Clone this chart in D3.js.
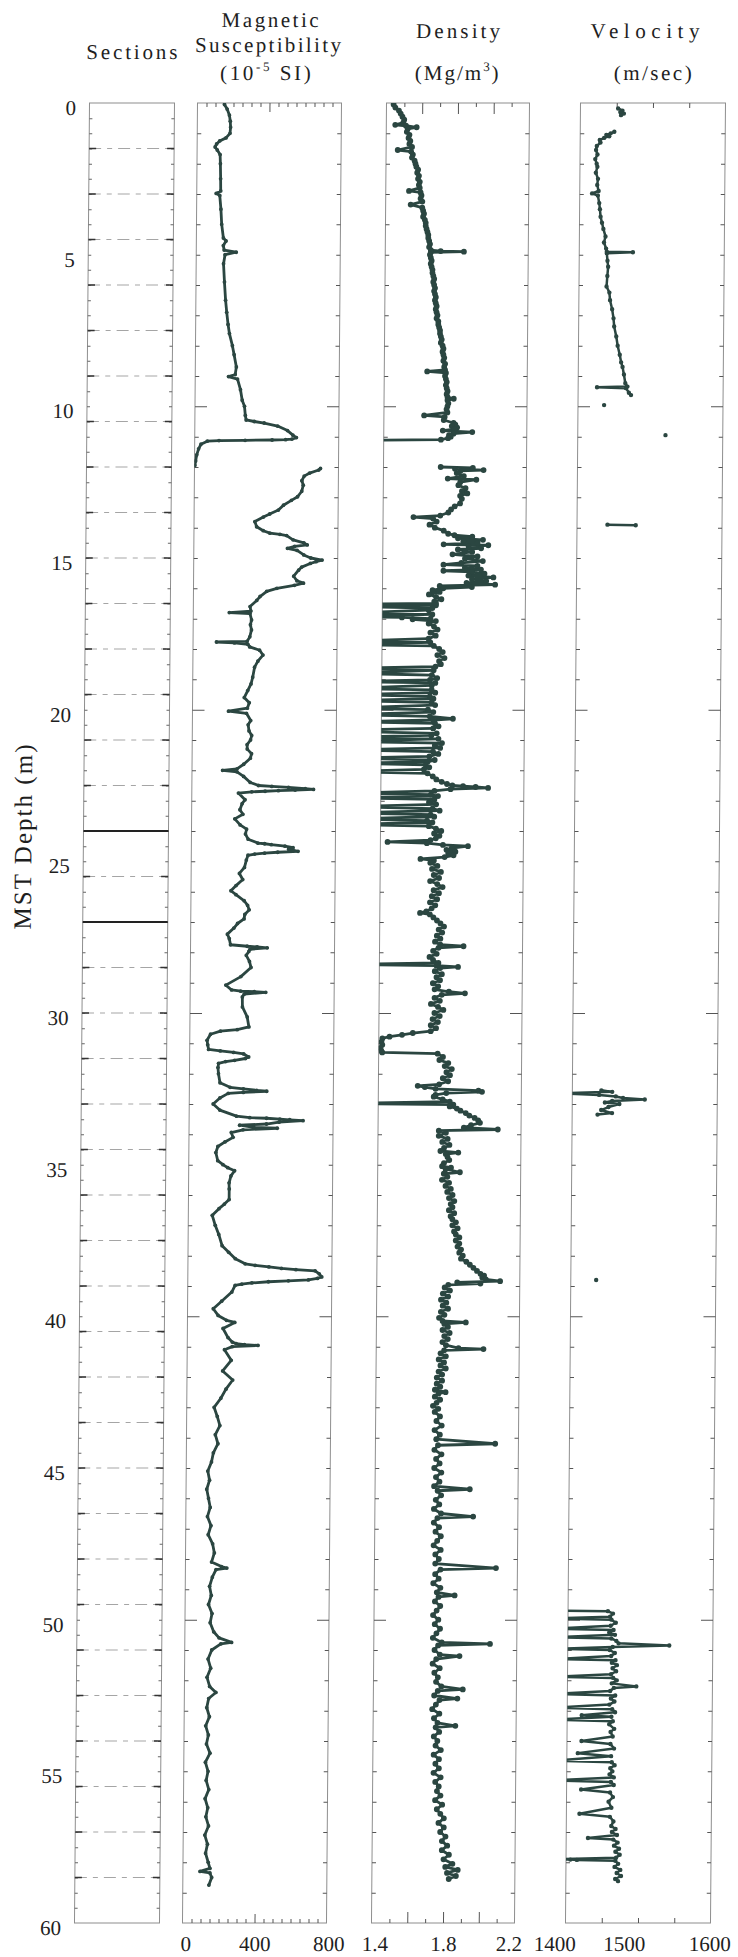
<!DOCTYPE html>
<html><head><meta charset="utf-8">
<script src="https://cdn.jsdelivr.net/npm/d3@7"></script>
<style>
body{margin:0;background:#fff;}
svg{display:block;}
text{font-family:"Liberation Serif","Times New Roman",serif;fill:#1e1e1e;}
</style></head><body>
<svg id="chart" width="738" height="1957"></svg>
<script>
// ---------------- DATA ----------------
const depthLabels = [0,5,10,15,20,25,30,35,40,45,50,55,60];
const magLabels = [0,400,800];
const denLabels = [1.4,1.8,2.2];
const velLabels = [1400,1500,1600];

// section boundaries (m) and the two bold lines
const sectionBounds = [1.5,3,4.5,6,7.5,9,10.5,12,13.5,15,16.5,18,19.5,21,22.5,25.5,28.5,30,31.5,33,34.5,36,37.5,39,40.5,42,43.5,45,46.5,48,49.5,51,52.5,54,55.5,57,58.5];
const boldBounds = [24.0,27.0];

// magnetic susceptibility [depth m, 10^-5 SI]
const magSusc = [
[0.05,150],[0.2,165],[0.4,178],[0.6,183],[0.8,185],[1.0,182],[1.15,160],[1.25,125],[1.35,108],[1.45,100],[1.55,112],[1.7,128],[2.0,130],[2.5,132],[2.9,133],[2.98,108],[3.05,128],[3.5,135],[4.0,140],[4.45,150],[4.55,165],[4.7,150],[4.85,155],[4.92,222],[5.0,160],[5.3,152],[5.9,158],[6.5,165],[6.9,172],[7.3,180],[7.6,188],[8.0,205],[8.3,215],[8.7,228],[8.95,222],[9.02,185],[9.1,235],[9.45,252],[9.8,262],[10.0,275],[10.3,280],[10.45,285],[10.5,330],[10.55,385],[10.65,460],[10.8,515],[10.95,545],[11.03,565],[11.08,540],[11.1,505],[11.11,430],[11.12,280],[11.13,135],[11.15,70],[11.25,35],[11.4,22],[11.6,12],[11.8,6],[11.95,2],
null,
[12.05,700],[12.1,690],[12.2,640],[12.3,610],[12.45,597],[12.6,605],[12.8,597],[12.98,574],[13.1,540],[13.26,496],[13.42,468],[13.55,420],[13.65,385],[13.8,338],[13.97,348],[14.1,385],[14.18,422],[14.22,478],[14.26,515],[14.4,551],[14.5,611],[14.57,630],[14.62,560],[14.68,520],[14.75,574],[14.9,611],[15.0,650],[15.07,713],[15.12,680],[15.18,648],[15.3,600],[15.4,583],[15.6,556],[15.75,574],[15.83,611],[15.9,560],[16.0,463],[16.1,407],[16.27,370],[16.4,352],[16.6,315],[16.75,320],[16.8,200],[16.83,315],[17.04,324],[17.2,318],[17.37,324],[17.6,315],[17.75,300],[17.77,130],[17.8,230],[17.85,305],[17.93,315],[18.04,370],[18.2,389],[18.4,361],[18.6,343],[18.93,333],[19.15,324],[19.37,306],[19.6,287],[19.77,315],[19.95,305],[20.05,200],[20.12,300],[20.36,324],[20.5,310],[20.7,315],[20.85,330],[21.0,324],[21.15,305],[21.3,306],[21.45,330],[21.6,324],[21.8,287],[21.95,250],[22.0,170],[22.05,250],[22.2,287],[22.4,324],[22.5,370],[22.53,444],[22.56,537],[22.6,630],[22.63,676],[22.65,574],[22.67,481],[22.69,407],[22.71,333],[22.75,259],[22.97,296],[23.1,280],[23.3,268],[23.45,285],[23.6,240],[23.8,270],[23.94,306],[24.1,300],[24.27,315],[24.4,370],[24.42,407],[24.45,444],[24.5,520],[24.55,565],[24.6,540],[24.67,593],[24.7,480],[24.73,407],[24.76,352],[24.8,315],[24.96,306],[25.2,296],[25.4,268],[25.6,287],[25.8,250],[25.97,222],[26.1,250],[26.3,296],[26.45,315],[26.6,324],[26.75,300],[26.9,296],[27.05,260],[27.2,240],[27.4,204],[27.55,215],[27.75,222],[27.8,315],[27.82,370],[27.85,426],[27.9,330],[27.97,324],[28.1,310],[28.3,328],[28.5,337],[28.8,281],[29.08,198],[29.24,230],[29.28,281],[29.3,356],[29.32,420],[29.38,300],[29.47,290],[29.8,291],[30.13,318],[30.46,328],[30.55,263],[30.6,170],[30.7,115],[30.9,96],[31.05,100],[31.2,105],[31.25,170],[31.3,244],[31.35,300],[31.45,328],[31.5,310],[31.56,250],[31.6,200],[31.66,161],[31.8,158],[32.0,161],[32.3,170],[32.45,226],[32.5,300],[32.55,374],[32.58,430],[32.62,300],[32.65,216],[32.8,170],[33.0,133],[33.2,170],[33.4,263],[33.45,337],[33.47,430],[33.5,504],[33.52,559],[33.55,633],[33.6,500],[33.66,430],[33.7,281],[33.77,360],[33.8,490],[33.85,300],[33.94,235],[34.1,245],[34.25,200],[34.4,161],[34.6,150],[34.87,161],[35.0,190],[35.1,217],[35.2,255],[35.37,235],[35.6,225],[35.8,226],[36.15,226],[36.3,200],[36.45,170],[36.67,133],[37.0,150],[37.3,170],[37.67,189],[37.89,226],[38.1,263],[38.27,318],[38.32,374],[38.37,450],[38.42,520],[38.46,600],[38.5,707],[38.6,730],[38.7,744],[38.75,720],[38.8,670],[38.83,559],[38.86,448],[38.9,356],[38.94,300],[38.98,263],[39.2,245],[39.5,189],[39.75,143],[39.97,170],[40.13,217],[40.2,263],[40.4,198],[40.7,226],[40.85,250],[40.9,272],[40.93,318],[40.96,393],[41.0,250],[41.1,207],[41.45,245],[41.8,198],[42.1,254],[42.4,217],[42.7,189],[43.0,152],[43.3,170],[43.6,185],[43.9,160],[44.2,175],[44.5,150],[44.8,140],[45.1,120],[45.4,130],[45.7,115],[46.0,125],[46.3,135],[46.6,120],[46.9,140],[47.2,125],[47.5,150],[47.8,160],[48.1,145],[48.25,200],[48.3,230],[48.35,170],[48.6,150],[48.9,135],[49.2,145],[49.5,130],[49.8,150],[50.1,140],[50.4,160],[50.6,190],[50.75,260],[50.8,200],[51.0,150],[51.3,130],[51.6,145],[51.9,125],[52.2,140],[52.4,175],[52.6,135],[52.9,125],[53.2,140],[53.5,120],[53.8,135],[54.1,125],[54.4,145],[54.7,120],[55.0,135],[55.3,125],[55.6,140],[55.9,120],[56.2,135],[56.5,125],[56.8,140],[57.1,120],[57.4,135],[57.7,125],[58.0,140],[58.2,150],[58.3,95],[58.35,150],[58.5,160],[58.75,145]
];

// density [depth m, Mg/m3]; values below 1.4 run off the left edge
const density = [
[0.05,1.44],[0.15,1.45],[0.25,1.47],[0.35,1.48],[0.45,1.49],[0.55,1.50],[0.65,1.495],[0.72,1.45],[0.75,1.51],[0.8,1.57],[0.85,1.52],[0.95,1.515],[1.05,1.53],[1.15,1.525],[1.25,1.535],[1.35,1.53],[1.45,1.545],[1.55,1.465],[1.6,1.54],[1.7,1.55],[1.8,1.545],[1.9,1.56],[2.0,1.565],[2.1,1.57],[2.2,1.58],[2.3,1.575],[2.4,1.585],[2.5,1.58],[2.6,1.59],[2.7,1.585],[2.8,1.59],[2.9,1.53],[2.95,1.595],[3.05,1.60],[3.15,1.595],[3.25,1.605],[3.35,1.54],[3.45,1.605],[3.55,1.61],[3.65,1.615],[3.75,1.61],[3.85,1.62],[3.95,1.625],[4.05,1.625],[4.15,1.63],[4.25,1.635],[4.35,1.64],[4.45,1.64],[4.55,1.645],[4.65,1.65],[4.75,1.645],[4.85,1.655],[4.88,1.71],[4.9,1.84],[4.92,1.655],[5.0,1.65],[5.1,1.655],[5.2,1.66],[5.3,1.655],[5.4,1.66],[5.5,1.665],[5.6,1.665],[5.7,1.67],[5.8,1.675],[5.9,1.67],[6.0,1.675],[6.1,1.68],[6.2,1.675],[6.3,1.68],[6.4,1.685],[6.5,1.68],[6.6,1.685],[6.7,1.69],[6.8,1.685],[6.9,1.69],[7.0,1.695],[7.1,1.69],[7.2,1.70],[7.3,1.70],[7.4,1.705],[7.5,1.71],[7.6,1.71],[7.7,1.715],[7.8,1.72],[7.9,1.715],[8.0,1.725],[8.1,1.73],[8.2,1.725],[8.3,1.73],[8.4,1.735],[8.5,1.73],[8.6,1.74],[8.7,1.735],[8.8,1.74],[8.85,1.64],[8.9,1.745],[9.0,1.74],[9.1,1.745],[9.2,1.75],[9.3,1.745],[9.4,1.75],[9.5,1.755],[9.6,1.75],[9.7,1.755],[9.75,1.79],[9.8,1.755],[9.9,1.76],[10.0,1.755],[10.1,1.75],[10.2,1.755],[10.3,1.625],[10.35,1.74],[10.45,1.735],[10.55,1.79],[10.6,1.80],[10.65,1.78],[10.7,1.81],[10.75,1.795],[10.8,1.73],[10.85,1.895],[10.9,1.79],[10.95,1.765],[11.0,1.775],[11.05,1.76],[11.1,1.72],[11.13,1.0],
null,
[12.0,1.72],[12.03,1.90],[12.06,1.80],[12.1,1.96],[12.13,1.83],[12.2,1.81],[12.3,1.85],[12.38,1.76],[12.42,1.92],[12.5,1.83],[12.6,1.82],[12.7,1.86],[12.8,1.84],[12.87,1.87],[12.95,1.83],[13.05,1.84],[13.2,1.83],[13.3,1.80],[13.4,1.78],[13.5,1.765],[13.6,1.72],[13.65,1.57],[13.7,1.68],[13.8,1.70],[13.9,1.66],[14.0,1.69],[14.1,1.74],[14.2,1.765],[14.25,1.80],[14.3,1.90],[14.35,1.82],[14.4,1.96],[14.45,1.85],[14.5,1.93],[14.55,1.74],[14.58,1.99],[14.62,1.88],[14.68,1.95],[14.72,1.82],[14.8,1.90],[14.88,1.79],[14.95,1.93],[15.02,1.86],[15.1,1.96],[15.16,1.84],[15.22,1.74],[15.26,1.93],[15.32,1.86],[15.38,1.95],[15.42,1.74],[15.46,1.90],[15.52,1.97],[15.58,1.88],[15.64,2.02],[15.7,1.90],[15.76,1.98],[15.82,1.87],[15.88,2.03],[15.92,1.72],[15.96,1.90],[16.0,1.74],[16.06,1.68],[16.12,1.72],[16.2,1.66],[16.28,1.70],[16.36,1.73],[16.44,1.69],[16.5,1.70],[16.52,1.2],[16.56,1.70],[16.6,1.2],[16.65,1.68],[16.72,1.66],[16.82,1.2],[16.86,1.68],[16.93,1.2],[16.96,1.51],[17.0,1.67],[17.02,1.57],[17.08,1.70],[17.16,1.66],[17.26,1.69],[17.36,1.71],[17.46,1.67],[17.56,1.70],[17.66,1.66],[17.74,1.2],[17.78,1.67],[17.85,1.2],[17.9,1.69],[18.0,1.72],[18.1,1.74],[18.2,1.71],[18.3,1.75],[18.4,1.72],[18.5,1.73],[18.58,1.70],[18.64,1.2],[18.7,1.69],[18.8,1.2],[18.86,1.68],[18.96,1.71],[19.02,1.67],[19.07,1.2],[19.12,1.70],[19.2,1.68],[19.3,1.2],[19.35,1.68],[19.44,1.70],[19.5,1.2],[19.56,1.67],[19.64,1.69],[19.7,1.2],[19.76,1.68],[19.85,1.70],[19.95,1.2],[20.0,1.66],[20.08,1.69],[20.17,1.2],[20.22,1.67],[20.3,1.80],[20.34,1.69],[20.4,1.2],[20.45,1.70],[20.55,1.72],[20.62,1.69],[20.67,1.2],[20.72,1.2],[20.78,1.71],[20.85,1.68],[20.9,1.2],[20.96,1.72],[21.05,1.2],[21.1,1.74],[21.18,1.70],[21.26,1.73],[21.33,1.2],[21.38,1.69],[21.46,1.72],[21.54,1.67],[21.6,1.2],[21.66,1.70],[21.72,1.66],[21.77,1.2],[21.82,1.65],[21.9,1.67],[21.97,1.64],[22.04,1.2],[22.1,1.66],[22.2,1.69],[22.3,1.71],[22.38,1.74],[22.45,1.77],[22.5,1.80],[22.52,1.86],[22.55,1.93],[22.58,2.0],[22.62,1.79],[22.68,1.70],[22.75,1.2],[22.8,1.68],[22.85,1.72],[22.9,1.2],[22.96,1.70],[23.05,1.67],[23.12,1.71],[23.2,1.2],[23.26,1.69],[23.33,1.73],[23.4,1.2],[23.46,1.68],[23.53,1.70],[23.6,1.2],[23.66,1.66],[23.72,1.69],[23.78,1.2],[23.84,1.67],[23.92,1.71],[24.0,1.74],[24.08,1.70],[24.16,1.73],[24.24,1.71],[24.3,1.68],[24.36,1.44],[24.4,1.66],[24.46,1.75],[24.5,1.89],[24.56,1.80],[24.62,1.77],[24.68,1.82],[24.74,1.78],[24.8,1.81],[24.86,1.76],[24.92,1.625],[24.97,1.70],[25.05,1.68],[25.15,1.72],[25.25,1.69],[25.35,1.74],[25.45,1.70],[25.55,1.73],[25.65,1.68],[25.75,1.72],[25.85,1.75],[25.95,1.70],[26.05,1.73],[26.15,1.69],[26.25,1.72],[26.35,1.68],[26.45,1.71],[26.55,1.69],[26.65,1.66],[26.7,1.625],[26.75,1.68],[26.85,1.70],[26.95,1.72],[27.05,1.74],[27.15,1.76],[27.25,1.73],[27.35,1.75],[27.45,1.72],[27.55,1.74],[27.65,1.71],[27.75,1.74],[27.8,1.87],[27.85,1.73],[27.95,1.70],[28.05,1.72],[28.15,1.68],[28.25,1.70],[28.35,1.73],[28.4,1.2],[28.44,1.72],[28.48,1.84],[28.52,1.74],[28.62,1.71],[28.72,1.75],[28.82,1.72],[28.92,1.74],[29.02,1.70],[29.12,1.73],[29.22,1.71],[29.3,1.79],[29.35,1.88],[29.4,1.75],[29.5,1.71],[29.6,1.74],[29.7,1.69],[29.8,1.73],[29.9,1.76],[30.0,1.71],[30.1,1.74],[30.2,1.70],[30.3,1.73],[30.4,1.69],[30.5,1.72],[30.6,1.69],[30.66,1.59],[30.72,1.53],[30.78,1.46],[30.84,1.42],[30.95,1.415],[31.05,1.42],[31.15,1.41],[31.25,1.415],[31.3,1.42],[31.34,1.73],[31.45,1.76],[31.55,1.74],[31.65,1.79],[31.75,1.77],[31.85,1.81],[31.95,1.78],[32.05,1.80],[32.15,1.76],[32.25,1.79],[32.35,1.74],[32.4,1.62],[32.44,1.66],[32.5,1.72],[32.56,1.96],[32.6,1.98],[32.64,1.78],[32.7,1.72],[32.76,1.71],[32.85,1.76],[32.92,1.80],[32.98,1.2],[33.02,1.82],[33.08,1.80],[33.15,1.84],[33.22,1.86],[33.3,1.89],[33.38,1.91],[33.46,1.94],[33.54,1.96],[33.62,1.97],[33.7,1.92],[33.78,1.88],[33.84,2.07],[33.88,1.74],[33.95,1.78],[34.05,1.74],[34.15,1.79],[34.25,1.76],[34.35,1.80],[34.45,1.77],[34.55,1.75],[34.6,1.85],[34.65,1.78],[34.75,1.79],[34.85,1.80],[34.95,1.77],[35.05,1.76],[35.1,1.81],[35.15,1.78],[35.25,1.86],[35.3,1.77],[35.4,1.79],[35.5,1.76],[35.6,1.80],[35.7,1.78],[35.8,1.81],[35.9,1.79],[36.0,1.82],[36.1,1.80],[36.2,1.83],[36.3,1.81],[36.4,1.82],[36.5,1.80],[36.6,1.83],[36.7,1.81],[36.8,1.82],[36.9,1.84],[37.0,1.82],[37.1,1.85],[37.2,1.83],[37.3,1.84],[37.4,1.86],[37.5,1.84],[37.6,1.86],[37.7,1.85],[37.8,1.87],[37.9,1.86],[38.0,1.88],[38.1,1.87],[38.2,1.90],[38.3,1.92],[38.4,1.94],[38.5,1.96],[38.6,1.98],[38.66,2.0],[38.72,1.99],[38.78,2.01],[38.84,2.09],[38.88,1.85],[38.92,1.98],[38.96,1.80],[39.05,1.78],[39.15,1.81],[39.25,1.77],[39.35,1.80],[39.45,1.76],[39.55,1.79],[39.65,1.77],[39.75,1.80],[39.85,1.76],[39.95,1.78],[40.05,1.75],[40.15,1.77],[40.2,1.90],[40.25,1.78],[40.35,1.80],[40.45,1.77],[40.55,1.81],[40.65,1.78],[40.75,1.80],[40.85,1.77],[40.95,1.79],[41.05,1.86],[41.08,2.0],[41.12,1.78],[41.22,1.76],[41.32,1.79],[41.42,1.75],[41.52,1.78],[41.62,1.76],[41.72,1.79],[41.82,1.75],[41.92,1.77],[42.02,1.74],[42.12,1.77],[42.22,1.74],[42.32,1.76],[42.42,1.73],[42.5,1.79],[42.55,1.75],[42.65,1.73],[42.75,1.76],[42.85,1.74],[42.95,1.72],[43.05,1.75],[43.15,1.73],[43.3,1.76],[43.45,1.74],[43.6,1.77],[43.75,1.73],[43.9,1.76],[44.05,1.74],[44.2,2.07],[44.25,1.75],[44.4,1.73],[44.55,1.77],[44.7,1.74],[44.85,1.76],[45.0,1.73],[45.15,1.77],[45.3,1.74],[45.45,1.76],[45.6,1.73],[45.7,1.93],[45.75,1.75],[45.9,1.77],[46.05,1.74],[46.2,1.76],[46.35,1.73],[46.5,1.77],[46.6,1.95],[46.65,1.75],[46.8,1.73],[46.95,1.76],[47.1,1.74],[47.25,1.77],[47.4,1.75],[47.55,1.73],[47.7,1.77],[47.85,1.74],[48.0,1.76],[48.15,1.74],[48.3,2.08],[48.35,1.77],[48.5,1.74],[48.65,1.76],[48.8,1.73],[48.95,1.77],[49.1,1.75],[49.2,1.85],[49.25,1.76],[49.4,1.74],[49.55,1.77],[49.7,1.75],[49.85,1.73],[50.0,1.76],[50.15,1.74],[50.3,1.77],[50.45,1.75],[50.6,1.73],[50.75,1.78],[50.8,2.05],[50.85,1.76],[51.0,1.74],[51.15,1.77],[51.2,1.88],[51.3,1.75],[51.45,1.73],[51.6,1.77],[51.75,1.74],[51.9,1.76],[52.05,1.75],[52.2,1.78],[52.3,1.90],[52.35,1.76],[52.5,1.74],[52.6,1.87],[52.65,1.77],[52.8,1.75],[52.95,1.73],[53.1,1.77],[53.25,1.74],[53.4,1.76],[53.5,1.86],[53.55,1.75],[53.7,1.77],[53.85,1.74],[54.0,1.76],[54.15,1.75],[54.3,1.78],[54.45,1.74],[54.6,1.77],[54.75,1.75],[54.9,1.77],[55.05,1.74],[55.2,1.78],[55.35,1.75],[55.5,1.77],[55.65,1.76],[55.8,1.78],[55.95,1.75],[56.1,1.79],[56.25,1.76],[56.4,1.78],[56.55,1.80],[56.7,1.77],[56.85,1.80],[57.0,1.78],[57.15,1.81],[57.3,1.79],[57.45,1.82],[57.6,1.79],[57.75,1.83],[57.9,1.80],[58.05,1.85],[58.15,1.81],[58.25,1.88],[58.35,1.82],[58.45,1.87],[58.55,1.83]
];

// P-wave velocity [depth m, m/s]; values below 1400 run off the left edge
const velocity = [
[0.18,1452],[0.25,1458],[0.3,1455],[0.35,1460],[0.4,1456],
null,
[0.95,1447],[1.0,1442],[1.05,1436],[1.1,1440],[1.15,1433],[1.22,1427],[1.3,1428],[1.42,1423],[1.55,1422],[1.7,1424],[1.85,1421],[2.0,1423],[2.1,1424],[2.3,1422],[2.5,1425],[2.7,1424],[2.9,1426],[2.98,1417],[3.05,1425],[3.3,1427],[3.5,1428],[3.75,1429],[3.95,1431],[4.15,1433],[4.4,1436],[4.6,1434],[4.8,1437],[4.9,1438],[4.92,1474],[4.95,1438],[5.2,1439],[5.4,1440],[5.7,1439],[6.05,1438],[6.25,1442],[6.5,1443],[6.8,1446],[7.1,1448],[7.37,1449],[7.7,1452],[8.0,1454],[8.3,1457],[8.55,1459],[8.7,1461],[8.95,1463],[9.24,1465],[9.35,1468],[9.37,1426],[9.4,1466],[9.55,1470],[9.63,1473],
null,[9.96,1436],null,[10.95,1521],null,
[13.9,1442],[13.92,1481],
null,
[32.55,1440],[32.6,1455],[32.65,1380],[32.7,1437],[32.75,1460],[32.8,1470],[32.85,1500],[32.9,1455],[32.95,1445],[33.0,1465],[33.1,1450],[33.2,1440],[33.3,1455],[33.35,1435],
null,[38.8,1435],null,
[49.7,1380],[49.72,1455],[49.8,1462],[49.9,1458],[49.96,1380],[50.0,1460],[50.1,1466],[50.2,1459],[50.3,1380],[50.34,1463],[50.42,1457],[50.5,1465],[50.58,1380],[50.62,1460],[50.7,1467],[50.78,1470],[50.85,1540],[50.9,1462],[50.96,1380],[51.0,1458],[51.1,1465],[51.2,1460],[51.3,1380],[51.34,1466],[51.42,1461],[51.5,1468],[51.6,1462],[51.7,1467],[51.8,1460],[51.88,1380],[51.92,1463],[52.0,1468],[52.1,1461],[52.2,1495],[52.25,1464],[52.35,1459],[52.45,1380],[52.5,1466],[52.6,1460],[52.7,1465],[52.8,1458],[52.9,1380],[52.95,1462],[53.05,1466],[53.15,1420],[53.2,1461],[53.3,1380],[53.35,1463],[53.45,1458],[53.6,1465],[53.7,1460],[53.85,1463],[54.0,1420],[54.1,1460],[54.25,1465],[54.4,1415],[54.5,1461],[54.65,1380],[54.7,1462],[54.8,1466],[54.9,1460],[55.0,1463],[55.1,1459],[55.2,1465],[55.3,1380],[55.35,1461],[55.45,1465],[55.6,1420],[55.7,1460],[55.85,1464],[56.0,1458],[56.2,1462],[56.4,1418],[56.5,1460],[56.65,1465],[56.8,1462],[56.9,1468],[57.0,1463],[57.1,1470],[57.2,1430],[57.25,1465],[57.35,1471],[57.45,1466],[57.55,1473],[57.65,1468],[57.75,1474],[57.85,1469],[57.9,1380],[57.91,1406],[57.92,1415],[57.95,1468],[58.05,1472],[58.15,1467],[58.25,1475],[58.35,1470],[58.45,1476],[58.55,1468],[58.62,1472]
];

// ---------------- DRAWING ----------------
const W = 738, H = 1957;
const ink = "#2b4641";
const frameCol = "#8e8e8e";
const svg = d3.select("#chart");
svg.append("rect").attr("width", W).attr("height", H).attr("fill", "#fff");

// the scanned figure is slightly sheared
const k = -15 / 1819, yc = 1012;
const g = svg.append("g").attr("transform", `matrix(1,0,${k},1,${-k * yc},0)`);

const y = d3.scaleLinear().domain([0, 60]).range([103, 1923]);
const secX = d3.scaleLinear().domain([0, 1]).range([82, 167]);
const xMag = d3.scaleLinear().domain([0, 800]).range([190, 334]);
const xDen = d3.scaleLinear().domain([1.4, 2.2]).range([379, 522]);
const xVel = d3.scaleLinear().domain([1400, 1600]).range([573, 718]);

const defs = g.append("defs");
function clip(id, xs) {
  const r = xs.range();
  defs.append("clipPath").attr("id", id).append("rect")
    .attr("x", r[0]).attr("y", y(0)).attr("width", r[1] - r[0]).attr("height", y(60) - y(0));
}
clip("cMag", xMag); clip("cDen", xDen); clip("cVel", xVel);

function styleAxis(sel, col, w) {
  sel.select(".domain").remove();
  sel.selectAll(".tick line").attr("stroke", col).attr("stroke-width", w);
  sel.selectAll(".tick text").remove();
}

function frame(xs) {
  const r = xs.range();
  g.append("rect").attr("x", r[0]).attr("y", y(0)).attr("width", r[1] - r[0]).attr("height", y(60) - y(0))
    .attr("fill", "none").attr("stroke", frameCol).attr("stroke-width", 1);
}

const allMetres = d3.range(0, 61, 1);
const minorM = allMetres.filter(d => d % 10 !== 0);
const majorM = allMetres.filter(d => d % 10 === 0 && d > 0 && d < 60);
const halfM = d3.range(0.5, 60, 0.5);

function depthTicks(xs) {
  const r = xs.range();
  g.append("g").attr("transform", `translate(${r[0]},0)`).call(d3.axisLeft(y).tickValues(minorM).tickSize(-4)).call(s => styleAxis(s, "#555", 1));
  g.append("g").attr("transform", `translate(${r[0]},0)`).call(d3.axisLeft(y).tickValues(majorM).tickSize(-12)).call(s => styleAxis(s, "#555", 1));
  g.append("g").attr("transform", `translate(${r[1]},0)`).call(d3.axisRight(y).tickValues(minorM).tickSize(-4)).call(s => styleAxis(s, "#555", 1));
  g.append("g").attr("transform", `translate(${r[1]},0)`).call(d3.axisRight(y).tickValues(majorM).tickSize(-12)).call(s => styleAxis(s, "#555", 1));
}

function valueTicks(xs, minor, major, minorSize, majorSize) {
  [[minor, minorSize], [major, majorSize]].forEach(([vals, sz]) => {
    g.append("g").attr("transform", `translate(0,${y(0)})`).call(d3.axisTop(xs).tickValues(vals).tickSize(-sz)).call(s => styleAxis(s, "#555", 1));
    g.append("g").attr("transform", `translate(0,${y(60)})`).call(d3.axisBottom(xs).tickValues(vals).tickSize(-sz)).call(s => styleAxis(s, "#555", 1));
  });
}

// ---- Sections column ----
frame(secX);
g.append("g").attr("transform", `translate(${secX(0)},0)`).call(d3.axisLeft(y).tickValues(halfM).tickSize(-3)).call(s => styleAxis(s, "#666", 1));
g.append("g").attr("transform", `translate(${secX(1)},0)`).call(d3.axisRight(y).tickValues(halfM).tickSize(-3)).call(s => styleAxis(s, "#666", 1));
const sb = g.append("g");
sb.selectAll("line.sec").data(sectionBounds).join("line")
  .attr("x1", secX(0)).attr("x2", secX(1)).attr("y1", d => y(d)).attr("y2", d => y(d))
  .attr("stroke", "#a5a5a5").attr("stroke-width", 1).attr("stroke-dasharray", "12,6,5,6");
sb.selectAll("line.endL").data(sectionBounds).join("line").attr("class", "endL")
  .attr("x1", secX(0)).attr("x2", secX(0) + 7).attr("y1", d => y(d)).attr("y2", d => y(d))
  .attr("stroke", "#333").attr("stroke-width", 1.4);
sb.selectAll("line.endR").data(sectionBounds).join("line").attr("class", "endR")
  .attr("x1", secX(1) - 7).attr("x2", secX(1)).attr("y1", d => y(d)).attr("y2", d => y(d))
  .attr("stroke", "#333").attr("stroke-width", 1.4);
sb.selectAll("line.bold").data(boldBounds).join("line").attr("class", "bold")
  .attr("x1", secX(0)).attr("x2", secX(1)).attr("y1", d => y(d)).attr("y2", d => y(d))
  .attr("stroke", "#222").attr("stroke-width", 2);

// ---- data panels ----
frame(xMag); frame(xDen); frame(xVel);
depthTicks(xMag); depthTicks(xDen); depthTicks(xVel);
valueTicks(xMag, d3.range(50, 800, 50).filter(v => v !== 400), [400], 4, 9);
valueTicks(xDen, [1.5, 1.7, 1.9, 2.1], [1.6, 1.8, 2.0], 4, 11);
valueTicks(xVel, [1450, 1500, 1550], [], 5, 5);

function series(data, xs, clipId, lw, r) {
  const line = d3.line().defined(d => d !== null).x(d => xs(d[1])).y(d => y(d[0]));
  const grp = g.append("g").attr("clip-path", `url(#${clipId})`);
  grp.append("path").attr("d", line(data)).attr("fill", "none").attr("stroke", ink)
    .attr("stroke-width", lw).attr("stroke-linejoin", "round").attr("stroke-linecap", "round");
  grp.selectAll("circle").data(data.filter(d => d !== null)).join("circle")
    .attr("cx", d => xs(d[1])).attr("cy", d => y(d[0])).attr("r", r).attr("fill", ink);
}
series(magSusc, xMag, "cMag", 2.8, 1.9);
series(density, xDen, "cDen", 2.8, 2.9);
series(velocity, xVel, "cVel", 2.5, 2.2);

// ---- depth labels ----
const yAx = g.append("g").attr("transform", `translate(${secX(0)},0)`)
  .call(d3.axisLeft(y).tickValues(depthLabels).tickSize(0).tickPadding(13.5));
yAx.select(".domain").remove();
yAx.selectAll("text").attr("font-size", 21).attr("dy", "0.55em")
  .attr("font-family", "Liberation Serif").attr("fill", "#1e1e1e");

// ---- value labels along bottom ----
function bottomLabels(xs, vals, fmt, shifts) {
  const ax = g.append("g").attr("transform", `translate(0,${y(60)})`)
    .call(d3.axisBottom(xs).tickValues(vals).tickSize(0).tickPadding(13).tickFormat(fmt));
  ax.select(".domain").remove();
  ax.selectAll("text").attr("font-size", 21).attr("font-family", "Liberation Serif").attr("fill", "#1e1e1e")
    .attr("dx", (d, i) => shifts[i]);
}
bottomLabels(xMag, magLabels, d3.format("d"), [3, 0, 2]);
bottomLabels(xDen, denLabels, d3.format(".1f"), [3, 0, -6]);
bottomLabels(xVel, velLabels, d3.format("d"), [-11, -14, -1]);

// ---- headers ----
function head(txt, x, yy, len) {
  const t = g.append("text").attr("x", x).attr("y", yy).attr("text-anchor", "middle").attr("font-size", 21).text(txt);
  if (len) t.attr("textLength", len).attr("lengthAdjust", "spacing");
  return t;
}
head("Sections", 124, 59, 91);
head("Magnetic", 262, 27, 97);
head("Susceptibility", 260, 52, 146);
head("Density", 450, 38, 84);
head("Velocity", 637, 38, 109);
head("(m/sec)", 645, 80, 78);

const t1 = g.append("text").attr("x", 259).attr("y", 80).attr("text-anchor", "middle").attr("font-size", 21).attr("letter-spacing", 2.6);
t1.append("tspan").text("(10");
t1.append("tspan").attr("font-size", 13).attr("dy", -9).text("-5");
t1.append("tspan").attr("dy", 9).text(" SI)");

const t2 = g.append("text").attr("x", 450).attr("y", 80).attr("text-anchor", "middle").attr("font-size", 21).attr("letter-spacing", 2);
t2.append("tspan").text("(Mg/m");
t2.append("tspan").attr("font-size", 13).attr("dy", -9).text("3");
t2.append("tspan").attr("dy", 9).text(")");

// ---- y title ----
g.append("text").attr("transform", "translate(30,837) rotate(-90)").attr("text-anchor", "middle")
  .attr("font-size", 25).attr("textLength", 185).attr("lengthAdjust", "spacing").text("MST Depth (m)");
</script>
</body></html>
